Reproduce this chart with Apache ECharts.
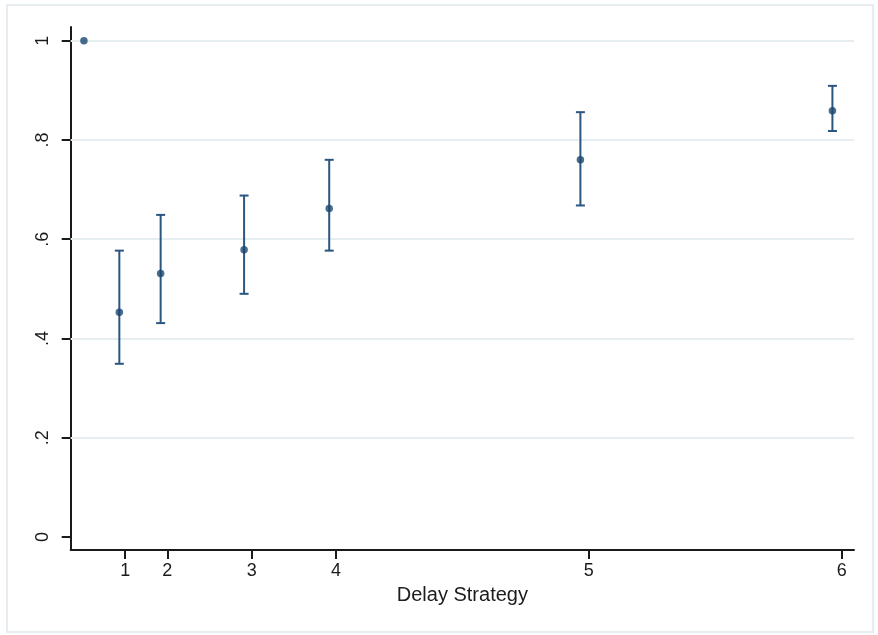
<!DOCTYPE html>
<html>
<head>
<meta charset="utf-8">
<script src="https://cdn.jsdelivr.net/npm/echarts@6/dist/echarts.min.js"></script>
<style>
html,body{margin:0;padding:0;background:#fff;}
#main{width:878px;height:635px;}
</style>
</head>
<body>
<div id="main"></div>
<script>
// Data
const xPos = [0.01, 0.43, 0.92, 1.91, 2.92, 5.90, 8.89];
const estimates = [1.0, 0.453, 0.531, 0.579, 0.662, 0.760, 0.859];
const ciLow = [null, 0.349, 0.431, 0.490, 0.577, 0.668, 0.818];
const ciHigh = [null, 0.577, 0.649, 0.688, 0.760, 0.856, 0.909];
const xTickValues = [0.5, 1, 2, 3, 6, 9];
const xTickLabels = ['1', '2', '3', '4', '5', '6'];
const yTickValues = [0, 0.2, 0.4, 0.6, 0.8, 1];
const yTickLabels = ['0', '.2', '.4', '.6', '.8', '1'];
const gridValues = [0.2, 0.4, 0.6, 0.8, 1];
const xTitle = 'Delay Strategy';

const navy = '#1a476f';
const font = '"Liberation Sans", Arial, sans-serif';

const pointData = xPos.map((x, i) => [x, estimates[i]]);
const barData = [];
xPos.forEach((x, i) => { if (ciLow[i] != null) barData.push([x, ciLow[i], ciHigh[i]]); });

const chart = echarts.init(document.getElementById('main'), null, {renderer: 'canvas'});
chart.setOption({
  animation: false,
  backgroundColor: '#ffffff',
  graphic: [{
    type: 'rect', shape: {x: 7, y: 5, width: 866, height: 627},
    style: {fill: 'none', stroke: '#e5edf0', lineWidth: 2}, z: -10
  }],
  grid: {left: 70.7, right: 24, top: 27, bottom: 85},
  xAxis: {
    type: 'value', min: -0.147, max: 9.146,
    name: xTitle, nameLocation: 'middle', nameGap: 35,
    nameTextStyle: {fontFamily: font, fontSize: 20, color: '#1c1c1c'},
    axisLine: {show: true, onZero: false, lineStyle: {color: '#1a1a1a', width: 2}},
    axisTick: {show: true, length: 9, customValues: xTickValues, lineStyle: {color: '#1a1a1a', width: 2}},
    axisLabel: {show: true, margin: 12, customValues: xTickValues, fontFamily: font, fontSize: 18, color: '#1a1a1a',
      formatter: v => { const k = xTickValues.findIndex(t => Math.abs(t - v) < 1e-6); return k >= 0 ? xTickLabels[k] : ''; }},
    splitLine: {show: false}
  },
  yAxis: {
    type: 'value', min: -0.0262, max: 1.0276,
    axisLine: {show: true, onZero: false, lineStyle: {color: '#1a1a1a', width: 2}},
    axisTick: {show: true, length: 9, customValues: yTickValues, lineStyle: {color: '#1a1a1a', width: 2}},
    axisLabel: {show: true, rotate: 90, margin: 19, customValues: yTickValues, fontFamily: font, fontSize: 18, color: '#1a1a1a',
      formatter: v => { const k = yTickValues.findIndex(t => Math.abs(t - v) < 1e-6); return k >= 0 ? yTickLabels[k] : ''; }},
    splitLine: {show: false}
  },
  series: [
    {
      type: 'line', data: [], silent: true, z: 0, zlevel: 0,
      markLine: {
        symbol: 'none', silent: true, label: {show: false},
        lineStyle: {color: '#e6eef1', width: 2, type: 'solid'},
        data: gridValues.map(v => ({yAxis: v}))
      }
    },
    {
      type: 'custom', data: barData, z: 3, zlevel: 1,
      renderItem: (params, api) => {
        const x = api.value(0);
        const lo = api.coord([x, api.value(1)]);
        const hi = api.coord([x, api.value(2)]);
        const hw = 4.5;
        const st = {stroke: '#2a5680', lineWidth: 2, fill: 'none'};
        return {type: 'group', children: [
          {type: 'line', shape: {x1: lo[0], y1: lo[1], x2: hi[0], y2: hi[1]}, style: st},
          {type: 'line', shape: {x1: lo[0] - hw, y1: lo[1], x2: lo[0] + hw, y2: lo[1]}, style: st},
          {type: 'line', shape: {x1: hi[0] - hw, y1: hi[1], x2: hi[0] + hw, y2: hi[1]}, style: st}
        ]};
      }
    },
    {
      type: 'scatter', data: pointData, symbol: 'circle', symbolSize: 7.5, z: 4, zlevel: 1,
      itemStyle: {color: navy}
    }
  ]
});
</script>
</body>
</html>
